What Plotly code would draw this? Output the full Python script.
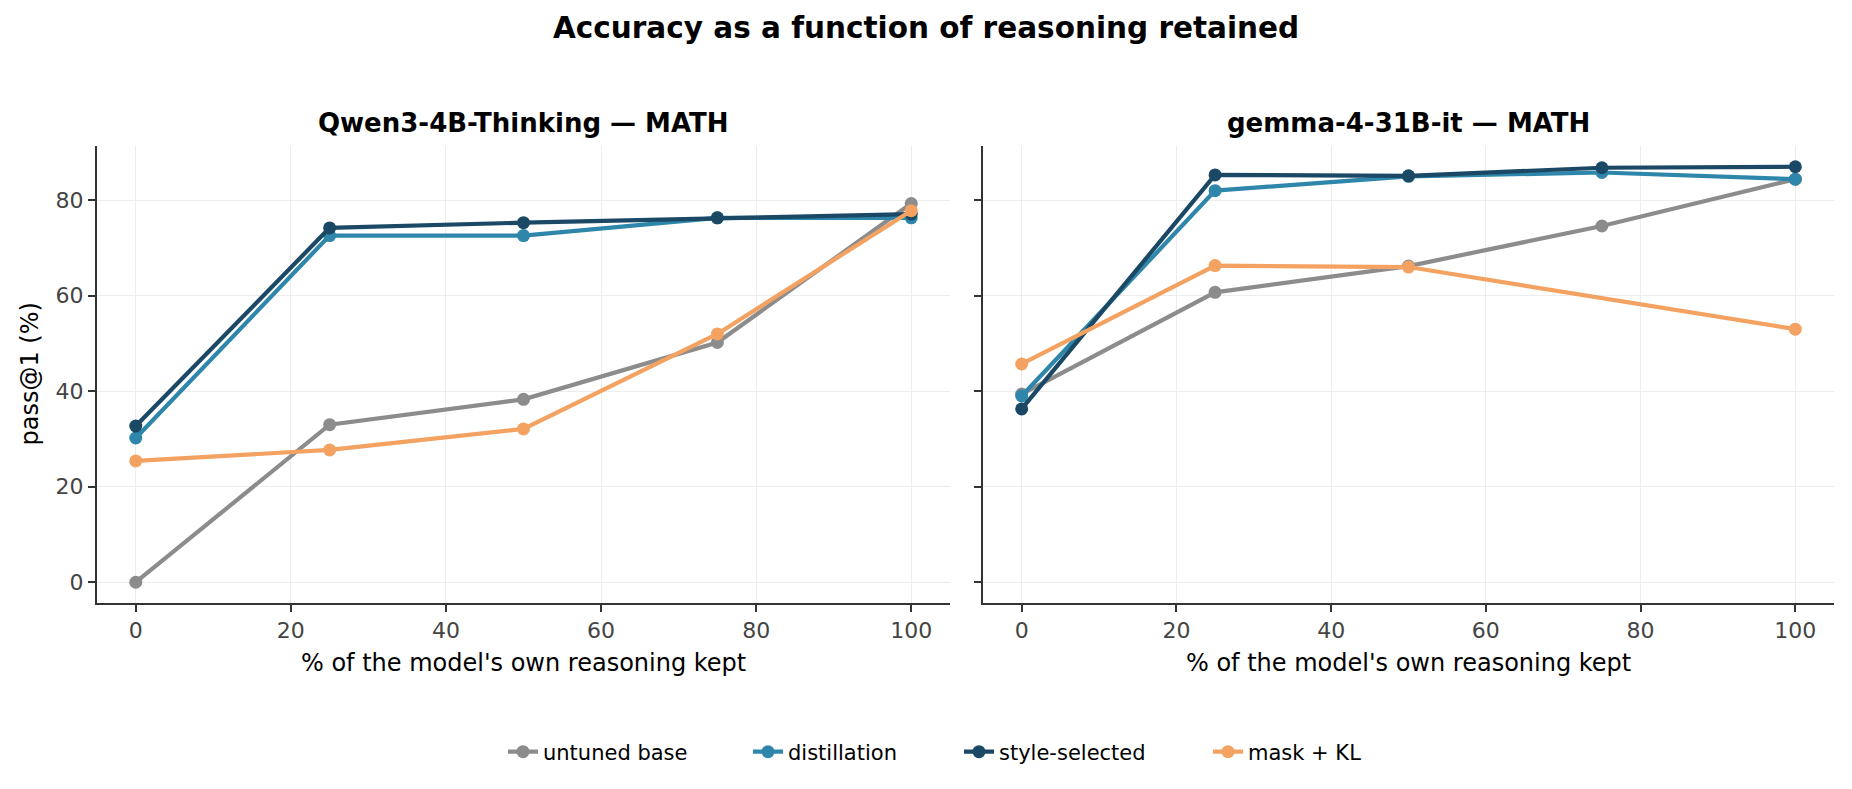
import plotly.graph_objects as go

W, H = 1852, 789

reasoning_kept = [0, 25, 50, 75, 100]
series_names = ["untuned base", "distillation", "style-selected", "mask + KL"]
series_colors = ["#8C8C8C", "#2E86AB", "#1B4965", "#F4A261"]

qwen_untuned = [0.0, 33.0, 38.3, 50.2, 79.3]
qwen_distill = [30.2, 72.6, 72.6, 76.3, 76.3]
qwen_style = [32.7, 74.2, 75.3, 76.3, 77.1]
qwen_maskkl = [25.4, 27.7, 32.1, 52.0, 77.8]

gemma_untuned = [39.4, 60.7, 66.2, 74.6, 84.4]
gemma_distill = [39.0, 82.0, 85.0, 85.8, 84.4]
gemma_style = [36.3, 85.3, 85.1, 86.8, 87.0]
gemma_maskkl = [45.7, 66.3, 66.0, None, 53.0]

panel_titles = ["Qwen3-4B-Thinking — MATH", "gemma-4-31B-it — MATH"]
main_title = "Accuracy as a function of reasoning retained"
x_title = "% of the model's own reasoning kept"
y_title = "pass@1 (%)"
x_ticks = [0, 20, 40, 60, 80, 100]
y_ticks = [0, 20, 40, 60, 80]

panels = [
    [qwen_untuned, qwen_distill, qwen_style, qwen_maskkl],
    [gemma_untuned, gemma_distill, gemma_style, gemma_maskkl],
]

FONT = "DejaVu Sans"

def px_x(p):
    return p / W

def px_y(p):
    return 1 - p / H

legend_ids = ["legend", "legend2", "legend3", "legend4"]
legend_text_start = [547, 792, 1003, 1252]

fig = go.Figure()
for pi, data in enumerate(panels):
    xa = "x" if pi == 0 else "x2"
    ya = "y" if pi == 0 else "y2"
    for si, vals in enumerate(data):
        fig.add_trace(go.Scatter(
            x=reasoning_kept, y=vals, mode="lines+markers",
            name=series_names[si], legendgroup=series_names[si],
            legend=legend_ids[si],
            showlegend=(pi == 0), connectgaps=True,
            line=dict(color=series_colors[si], width=4.2),
            marker=dict(color=series_colors[si], size=13),
            xaxis=xa, yaxis=ya,
        ))

ax_common = dict(
    showline=True, linecolor="#333333", linewidth=2,
    ticks="outside", ticklen=7, tickwidth=2, tickcolor="#333333",
    showgrid=True, gridcolor="#EDEDED", gridwidth=1.3,
    zeroline=False, automargin=False,
    tickfont=dict(family=FONT, size=22, color="#444444"),
)

xdom1 = [px_x(97), px_x(950)]
xdom2 = [px_x(983), px_x(1834)]
ydom = [px_y(603), px_y(146)]

layout = dict(
    width=W, height=H,
    margin=dict(l=0, r=0, t=0, b=0),
    paper_bgcolor="white", plot_bgcolor="white",
    font=dict(family=FONT, color="black"),
    xaxis=dict(domain=xdom1, range=[-5, 105], tickvals=x_ticks, anchor="y", **ax_common),
    xaxis2=dict(domain=xdom2, range=[-5, 105], tickvals=x_ticks, anchor="y2", **ax_common),
    yaxis=dict(domain=ydom, range=[-4.35, 91.35], tickvals=y_ticks, anchor="x", **ax_common),
    yaxis2=dict(domain=ydom, range=[-4.35, 91.35], tickvals=y_ticks, anchor="x2",
                showticklabels=False, **ax_common),
    showlegend=True,
)
for lid, tx in zip(legend_ids, legend_text_start):
    layout[lid] = dict(orientation="h", x=px_x(tx - 44), xanchor="left",
                       y=px_y(752), yanchor="middle",
                       font=dict(family=FONT, size=21, color="black"),
                       bgcolor="rgba(0,0,0,0)")
fig.update_layout(**layout)

annotations = [
    dict(text="<b>%s</b>" % main_title, x=0.5, y=px_y(28), xref="paper", yref="paper",
         showarrow=False, xanchor="center", yanchor="middle",
         font=dict(family=FONT, size=29.5, color="black")),
    dict(text="<b>%s</b>" % panel_titles[0], x=(xdom1[0] + xdom1[1]) / 2, y=px_y(123),
         xref="paper", yref="paper", showarrow=False, xanchor="center", yanchor="middle",
         font=dict(family=FONT, size=26, color="black")),
    dict(text="<b>%s</b>" % panel_titles[1], x=(xdom2[0] + xdom2[1]) / 2, y=px_y(123),
         xref="paper", yref="paper", showarrow=False, xanchor="center", yanchor="middle",
         font=dict(family=FONT, size=26, color="black")),
    dict(text=x_title, x=(xdom1[0] + xdom1[1]) / 2, y=px_y(663), xref="paper", yref="paper",
         showarrow=False, xanchor="center", yanchor="middle",
         font=dict(family=FONT, size=24, color="black")),
    dict(text=x_title, x=(xdom2[0] + xdom2[1]) / 2, y=px_y(663), xref="paper", yref="paper",
         showarrow=False, xanchor="center", yanchor="middle",
         font=dict(family=FONT, size=24, color="black")),
    dict(text=y_title, x=px_x(30), y=(ydom[0] + ydom[1]) / 2, xref="paper", yref="paper",
         showarrow=False, xanchor="center", yanchor="middle", textangle=-90,
         font=dict(family=FONT, size=24, color="black")),
]
fig.update_layout(annotations=annotations)

fig.write_html("out.html", config={"displayModeBar": False},
               post_script="document.body.style.margin='0px';")
